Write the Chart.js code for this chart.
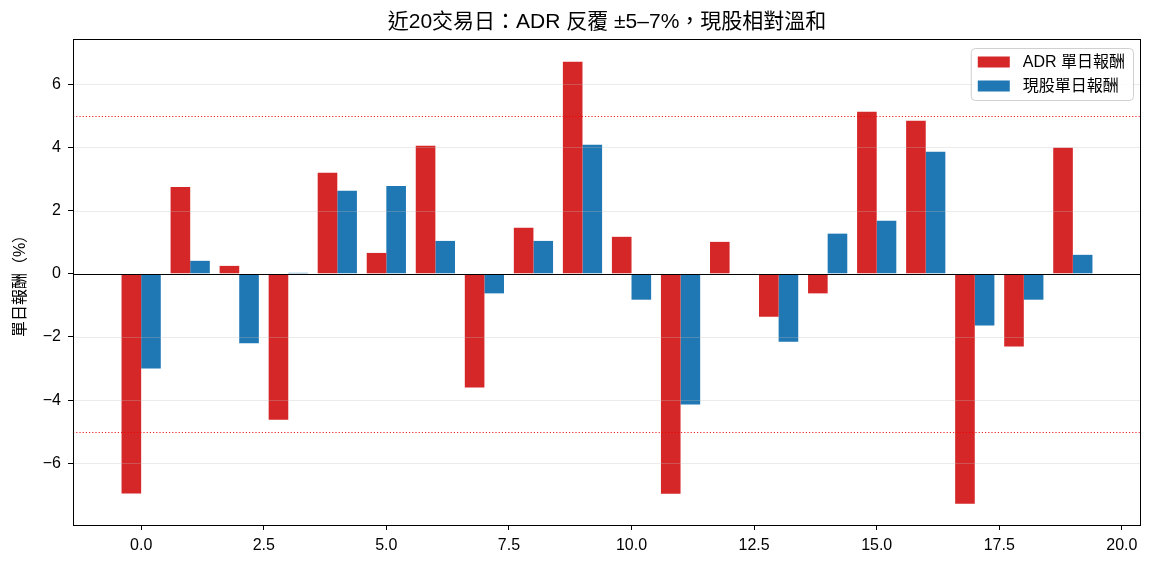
<!DOCTYPE html>
<html lang="zh-Hant">
<head>
<meta charset="utf-8">
<title>ADR vs 現股 單日報酬</title>
<script src="https://cdn.jsdelivr.net/npm/chart.js@4.4.1/dist/chart.umd.min.js"></script>
<style>
  html, body { margin: 0; padding: 0; background: #fff; }
  #wrap { width: 1153px; height: 570px; position: relative; }
</style>
</head>
<body>
<div id="wrap"><canvas id="grafico"></canvas></div>
<script>
// dados: 20 pregões, retorno diário (%)
const dias = [0, 1, 2, 3, 4, 5, 6, 7, 8, 9, 10, 11, 12, 13, 14, 15, 16, 17, 18, 19];
const adrRetorno = [-6.95, 2.75, 0.25, -4.62, 3.2, 0.66, 4.05, -3.6, 1.46, 6.71,
                    1.17, -6.96, 1.01, -1.36, -0.62, 5.13, 4.84, -7.28, -2.3, 3.99];
const acaoRetorno = [-3.0, 0.41, -2.2, 0.03, 2.63, 2.78, 1.04, -0.62, 1.04, 4.08,
                     -0.82, -4.14, 0.0, -2.15, 1.27, 1.68, 3.86, -1.64, -0.82, 0.6];
const nomesSeries = ['ADR 單日報酬', '現股單日報酬'];
const linhasLimite = [5, -5];
const ticksX = [0, 2.5, 5, 7.5, 10, 12.5, 15, 17.5, 20];
const ticksY = [-6, -4, -2, 0, 2, 4, 6];
const titulo = '近20交易日：ADR 反覆 ±5–7%，現股相對溫和';
const tituloY = '單日報酬（%）';

const FONTE = '"Liberation Sans", "Noto Sans CJK TC", sans-serif';
const VERMELHO = '#d62728';
const AZUL = '#1f77b4';

// linhas de grade, limites, linha zero, moldura, título e legenda
const extras = {
  id: 'extras',
  afterDatasetsDraw(chart) {
    const { ctx, chartArea: a, scales } = chart;
    const y = scales.y;
    ctx.save();
    ctx.beginPath();
    ctx.rect(a.left, a.top, a.right - a.left, a.bottom - a.top);
    ctx.clip();

    ctx.strokeStyle = 'rgba(190,190,190,0.3)';
    ctx.lineWidth = 1;
    ticksY.forEach(v => {
      const py = Math.round(y.getPixelForValue(v)) + 0.5;
      ctx.beginPath(); ctx.moveTo(a.left, py); ctx.lineTo(a.right, py); ctx.stroke();
    });

    ctx.strokeStyle = 'rgba(235,0,0,0.85)';
    ctx.setLineDash([1.2, 2]);
    linhasLimite.forEach(v => {
      const py = Math.round(y.getPixelForValue(v)) + 0.5;
      ctx.beginPath(); ctx.moveTo(a.left, py); ctx.lineTo(a.right, py); ctx.stroke();
    });
    ctx.setLineDash([]);

    ctx.strokeStyle = '#000';
    const p0 = Math.round(y.getPixelForValue(0)) + 0.5;
    ctx.beginPath(); ctx.moveTo(a.left, p0); ctx.lineTo(a.right, p0); ctx.stroke();
    ctx.restore();
  },
  afterDraw(chart) {
    const { ctx, chartArea: a } = chart;
    ctx.save();
    ctx.strokeStyle = '#000';
    ctx.lineWidth = 1;
    ctx.strokeRect(Math.round(a.left) + 0.5, Math.round(a.top) + 0.5,
                   Math.round(a.right - a.left) - 1, Math.round(a.bottom - a.top));

    // título centralizado sobre a área dos eixos
    ctx.fillStyle = '#000';
    ctx.font = '21px ' + FONTE;
    ctx.textAlign = 'center';
    ctx.textBaseline = 'middle';
    ctx.fillText(titulo, (a.left + a.right) / 2, 22);

    // legenda dentro do gráfico, canto superior direito
    ctx.font = '16px ' + FONTE;
    const larguraTexto = Math.max(...chart.data.datasets.map(d => ctx.measureText(d.label).width));
    const w = 7 + 32 + 13 + larguraTexto + 8;
    const h = 52;
    const x0 = a.right - 8 - w;
    const y0 = a.top + 9;
    ctx.beginPath();
    ctx.roundRect(x0 + 0.5, y0 + 0.5, w, h, 4);
    ctx.fillStyle = 'rgba(255,255,255,0.8)';
    ctx.fill();
    ctx.strokeStyle = '#d0d0d0';
    ctx.stroke();
    ctx.textAlign = 'left';
    chart.data.datasets.forEach((d, i) => {
      const cy = y0 + 14 + i * 24;
      ctx.fillStyle = d.backgroundColor;
      ctx.fillRect(x0 + 7, cy - 5.5, 32, 11);
      ctx.fillStyle = '#000';
      ctx.fillText(d.label, x0 + 52, cy + 1);
    });
    ctx.restore();
  }
};

new Chart(document.getElementById('grafico'), {
  type: 'bar',
  data: {
    datasets: [
      {
        label: nomesSeries[0],
        data: dias.map((d, i) => ({ x: d, y: adrRetorno[i] })),
        backgroundColor: VERMELHO,
        borderWidth: 0
      },
      {
        label: nomesSeries[1],
        data: dias.map((d, i) => ({ x: d, y: acaoRetorno[i] })),
        backgroundColor: AZUL,
        borderWidth: 0
      }
    ]
  },
  options: {
    responsive: true,
    maintainAspectRatio: false,
    animation: false,
    layout: { padding: { top: 39, right: 12, left: 0, bottom: 0 } },
    datasets: { bar: { categoryPercentage: 0.8, barPercentage: 1.0 } },
    plugins: { legend: { display: false }, title: { display: false }, tooltip: { enabled: false } },
    scales: {
      x: {
        type: 'linear',
        offset: false,
        min: -1.39,
        max: 20.39,
        grid: { offset: false, drawOnChartArea: false, drawTicks: true, tickLength: 5, tickColor: '#000' },
        border: { display: false },
        afterBuildTicks: s => { s.ticks = ticksX.map(v => ({ value: v })); },
        afterFit: s => { s.height = 45; },
        ticks: {
          color: '#000',
          padding: 6,
          maxRotation: 0,
          font: { family: FONTE, size: 16 },
          callback: v => Number(v).toFixed(1)
        }
      },
      y: {
        min: -7.95,
        max: 7.43,
        grid: { drawOnChartArea: false, drawTicks: true, tickLength: 5, tickColor: '#000' },
        border: { display: false },
        afterBuildTicks: s => { s.ticks = ticksY.map(v => ({ value: v })); },
        afterFit: s => { s.width = 73; },
        title: {
          display: true,
          text: tituloY,
          color: '#000',
          font: { family: FONTE, size: 16 },
          padding: { top: 11, bottom: 0 }
        },
        ticks: {
          color: '#000',
          padding: 7,
          font: { family: FONTE, size: 16 },
          callback: v => (v < 0 ? '\u2212' + Math.abs(v) : String(v))
        }
      }
    }
  },
  plugins: [extras]
});
</script>
</body>
</html>
